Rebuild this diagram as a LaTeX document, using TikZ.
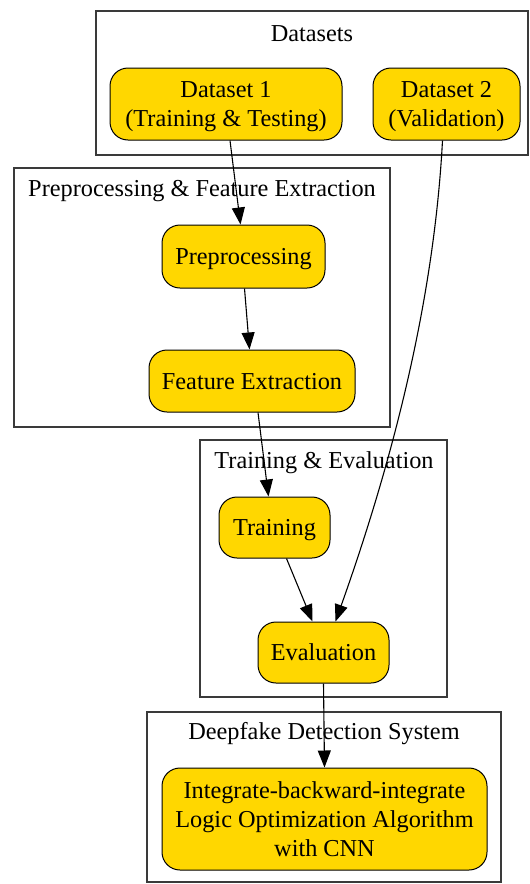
\documentclass[tikz,border=0pt]{standalone}
\usepackage{fontspec}
\setmainfont{Liberation Serif}
\usetikzlibrary{arrows.meta}
\definecolor{nodegold}{HTML}{FFD700}
\definecolor{clusterline}{HTML}{3A3A3A}
\tikzset{
  cluster/.style={draw=clusterline, line width=1.6pt, fill=none},
  stepbox/.style={draw=black, line width=1pt, fill=nodegold, rounded corners=18pt,
    inner sep=0pt, align=center, text depth=0pt, font=\fontsize{24.3}{29}\selectfont},
  clabel/.style={inner sep=0pt, font=\fontsize{24.3}{29}\selectfont},
  arr/.style={draw=black, line width=1.1pt, -{Triangle[length=17pt,width=13pt]}},
}
\begin{document}
\begin{tikzpicture}[x=1pt,y=-1pt]
\useasboundingbox (0,0) rectangle (530,884);
\fill[white] (0,0) rectangle (530,884);

% clusters
\draw[cluster] (96,11) rectangle (528,155);
\node[clabel] (lds) at (312,34) {Datasets};
\draw[cluster] (14,168) rectangle (390,427);
\node[clabel] (lpf) at (202,191) {Preprocessing \& Feature Extraction};
\draw[cluster] (200,440) rectangle (447,697);
\node[clabel] (lte) at (324,463) {Training \& Evaluation};
\draw[cluster] (147,712) rectangle (501,882);
\node[clabel] (ldd) at (324,734) {Deepfake Detection System};

% nodes
\node[stepbox, minimum width=232pt, minimum height=72pt] (d1) at (226,104) {Dataset 1\\(Training \& Testing)};
\node[stepbox, minimum width=147pt, minimum height=72pt] (d2) at (446.5,104) {Dataset 2\\(Validation)};
\node[stepbox, minimum width=163pt, minimum height=63pt] (pre) at (243.5,256.5) {Preprocessing};
\node[stepbox, minimum width=206pt, minimum height=62pt] (fe) at (252,381) {Feature Extraction};
\node[stepbox, minimum width=111pt, minimum height=61pt] (tr) at (274.5,527.5) {Training};
\node[stepbox, minimum width=131pt, minimum height=61pt] (ev) at (323.5,652.5) {Evaluation};
\node[stepbox, minimum width=325pt, minimum height=102pt] (alg) at (324.5,819) {Integrate-backward-integrate\\Logic Optimization Algorithm\\with CNN};

% edges
\draw[arr] ([xshift=4pt]d1.south) -- ([xshift=-3pt]pre.north);
\draw[arr] ([xshift=1pt]pre.south) -- ([xshift=6pt]pre.south |- fe.north);
\draw[arr] ([xshift=6pt]fe.south) -- ([xshift=-6pt]tr.north);
\draw[arr] ([xshift=12pt]tr.south) -- ([xshift=-11pt]ev.north);
\draw[arr] ([xshift=-4pt]d2.south) .. controls (434,300) and (393,460) .. ([xshift=12pt]ev.north);
\draw[arr] (ev.south) -- (alg.north);
\end{tikzpicture}
\end{document}
